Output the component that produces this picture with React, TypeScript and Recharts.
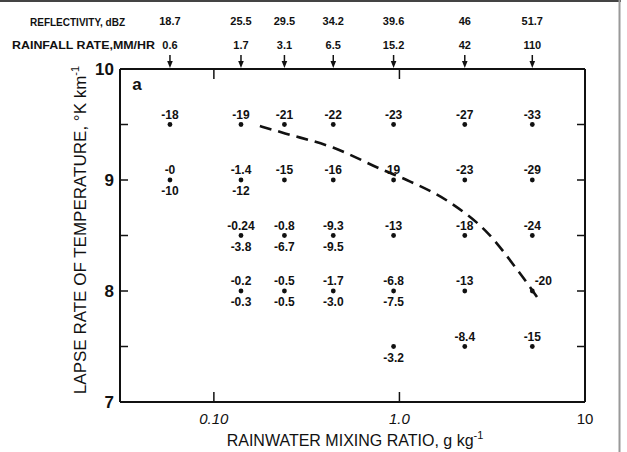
import React from 'react';
import { ComposedChart, Scatter, Line, XAxis, YAxis } from 'recharts';

// rainwater mixing ratio (g/kg) of each column of observations
const mixingRatio = [0.058, 0.14, 0.24, 0.44, 0.93, 2.25, 5.2];
// lapse rate rows (K/km)
const lapseRate = [9.5, 9.0, 8.5, 8.0, 7.5];

// header scales above the plot, one per column
const reflectivity = ['18.7', '25.5', '29.5', '34.2', '39.6', '46', '51.7'];
const rainfallRate = ['0.6', '1.7', '3.1', '6.5', '15.2', '42', '110'];

// values written above / below each dot (rows follow lapseRate, columns follow mixingRatio)
const upperLabels: (string | null)[][] = [
  ['-18', '-19', '-21', '-22', '-23', '-27', '-33'],
  ['-0', '-1.4', '-15', '-16', '19', '-23', '-29'],
  [null, '-0.24', '-0.8', '-9.3', '-13', '-18', '-24'],
  [null, '-0.2', '-0.5', '-1.7', '-6.8', '-13', '-20'],
  [null, null, null, null, null, '-8.4', '-15'],
];
const lowerLabels: (string | null)[][] = [
  [null, null, null, null, null, null, null],
  ['-10', '-12', null, null, null, null, null],
  [null, '-3.8', '-6.7', '-9.5', null, null, null],
  [null, '-0.3', '-0.5', '-3.0', '-7.5', null, null],
  [null, null, null, null, '-3.2', null, null],
];
// the one label that sits beside its dot rather than above it
const sideLabel = { row: 3, col: 6 };

// dashed boundary curve
const curveRatio = [0.177, 0.242, 0.442, 0.815, 1.095, 1.9, 3.0, 4.32, 5.66];
const curveLapse = [9.486, 9.42, 9.29, 9.09, 9.0, 8.79, 8.52, 8.19, 7.92];

const xTicks = [0.1, 1, 10];
const xTickLabels = ['0.10', '1.0', '10'];
const yTicks = [7, 7.5, 8, 8.5, 9, 9.5, 10];

const FONT = '"Liberation Sans", Arial, sans-serif';
const INK = '#111';

const points: any[] = [];
lapseRate.forEach((y, r) => {
  mixingRatio.forEach((x, c) => {
    const above = upperLabels[r][c];
    const below = lowerLabels[r][c];
    if (above || below) {
      points.push({ x, y, above, below, side: r === sideLabel.row && c === sideLabel.col });
    }
  });
});

const curve = curveRatio.map((x, i) => ({ x, y: curveLapse[i] }));

const PointMark = (props: any) => {
  const { cx, cy, payload } = props;
  const txt = { fontFamily: FONT, fontSize: 12, fontWeight: 700, fill: INK, textAnchor: 'middle' as const, dominantBaseline: 'central' as const };
  return (
    <g>
      <circle cx={cx} cy={cy} r={2.4} fill={INK} />
      {payload.above && (
        <text x={payload.side ? cx + 11 : cx} y={cy - 10} {...txt}>{payload.above}</text>
      )}
      {payload.below && (
        <text x={cx} y={cy + 11} {...txt}>{payload.below}</text>
      )}
    </g>
  );
};

const LeftTick = ({ x, y, payload }: any) => {
  const v = payload.value;
  const corner = v === 7 || v === 10;
  return (
    <g>
      {!corner && <line x1={x} y1={y} x2={x + 8} y2={y} stroke={INK} strokeWidth={1.5} />}
      {Number.isInteger(v) && (
        <text x={x - 6} y={y} textAnchor="end" dominantBaseline="central"
          style={{ fontFamily: FONT, fontSize: 17, fontWeight: 700, fill: INK }}>{v}</text>
      )}
    </g>
  );
};

const RightTick = ({ x, y, payload }: any) => {
  const v = payload.value;
  if (v === 7 || v === 10) return <g />;
  return <line x1={x} y1={y} x2={x - 8} y2={y} stroke={INK} strokeWidth={1.5} />;
};

const BottomTick = ({ x, y, payload, index }: any) => {
  const v = payload.value;
  return (
    <g>
      {v < 10 && <line x1={x} y1={y} x2={x} y2={y - 10} stroke={INK} strokeWidth={1.5} />}
      <text x={x} y={y + 16} textAnchor="middle" dominantBaseline="central"
        style={{ fontFamily: FONT, fontSize: 15, fontStyle: v < 10 ? 'italic' : 'normal', fill: INK }}>
        {xTickLabels[index]}
      </text>
    </g>
  );
};

const TopTick = ({ x, y, payload }: any) => {
  const i = mixingRatio.indexOf(payload.value);
  if (i < 0) return <line x1={x} y1={y} x2={x} y2={y + 10} stroke={INK} strokeWidth={1.5} />;
  const txt = { fontFamily: FONT, fontSize: 11, fontWeight: 700, fill: INK };
  return (
    <g>
      <text x={x} y={y - 48} textAnchor="middle" dominantBaseline="central" style={txt}>{reflectivity[i]}</text>
      <text x={x} y={y - 24} textAnchor="middle" dominantBaseline="central" style={txt}>{rainfallRate[i]}</text>
      <line x1={x} y1={y - 14} x2={x} y2={y - 4} stroke={INK} strokeWidth={1.5} />
      <path d={`M${x - 2.8},${y - 8} L${x + 2.8},${y - 8} L${x},${y - 1} Z`} fill={INK} />
    </g>
  );
};

const axisLine = { stroke: INK, strokeWidth: 2 };

export default function App() {
  return (
    <div style={{ position: 'absolute', left: 0, top: 0, width: 627, height: 452, background: '#fff' }}>
      <ComposedChart width={627} height={452} margin={{ top: 0, right: 0, bottom: 0, left: 0 }}>
        <XAxis xAxisId="bottom" dataKey="x" type="number" scale="log" domain={[0.0312, 10]} allowDataOverflow
          ticks={xTicks} interval={0} height={50} tickSize={0} tickMargin={0} tickLine={false}
          axisLine={axisLine} tick={<BottomTick />} />
        <XAxis xAxisId="top" orientation="top" dataKey="x" type="number" scale="log" domain={[0.0312, 10]} allowDataOverflow
          ticks={[...mixingRatio, 0.1, 1]} interval={0} height={69} tickSize={0} tickMargin={0} tickLine={false}
          axisLine={axisLine} tick={<TopTick />} />
        <YAxis yAxisId="left" dataKey="y" type="number" domain={[7, 10]} allowDataOverflow ticks={yTicks}
          interval={0} width={120} tickSize={0} tickMargin={0} tickLine={false} axisLine={axisLine} tick={<LeftTick />} />
        <YAxis yAxisId="right" orientation="right" dataKey="y" type="number" domain={[7, 10]} allowDataOverflow
          ticks={yTicks} interval={0} width={42} tickSize={0} tickMargin={0} tickLine={false} axisLine={axisLine}
          tick={<RightTick />} />
        <Line data={curve} dataKey="y" xAxisId="bottom" yAxisId="left" type="monotone" stroke={INK}
          strokeWidth={2.6} strokeDasharray="12 7" dot={false} activeDot={false} isAnimationActive={false} />
        <Scatter data={points} dataKey="y" xAxisId="bottom" yAxisId="left" shape={<PointMark />}
          isAnimationActive={false} />
      </ComposedChart>
      <svg width={627} height={452} style={{ position: 'absolute', left: 0, top: 0, pointerEvents: 'none' }}>
        <line x1={0} y1={1} x2={621} y2={1} stroke="#444" strokeWidth={2} />
        <line x1={619.5} y1={0} x2={619.5} y2={452} stroke="#999" strokeWidth={2} />
        <text x={125} y={21.7} textAnchor="end" dominantBaseline="central" textLength={95} lengthAdjust="spacingAndGlyphs"
          style={{ fontFamily: FONT, fontSize: 11, fontWeight: 700, fill: INK }}>REFLECTIVITY, dBZ</text>
        <text x={155} y={45} textAnchor="end" dominantBaseline="central" textLength={143} lengthAdjust="spacingAndGlyphs"
          style={{ fontFamily: FONT, fontSize: 11, fontWeight: 700, fill: INK }}>RAINFALL RATE,MM/HR</text>
        <text x={137} y={84} textAnchor="middle" dominantBaseline="central"
          style={{ fontFamily: FONT, fontSize: 17, fontWeight: 700, fill: INK }}>a</text>
        <text transform="translate(86,230) rotate(-90)" textAnchor="middle"
          style={{ fontFamily: FONT, fontSize: 17, fill: INK }}>
          LAPSE RATE OF TEMPERATURE, °K km<tspan dy={-7} fontSize={11}>-1</tspan>
        </text>
        <text x={355} y={446} textAnchor="middle"
          style={{ fontFamily: FONT, fontSize: 16, fill: INK }}>
          RAINWATER MIXING RATIO, g kg<tspan dy={-7} fontSize={11}>-1</tspan>
        </text>
      </svg>
    </div>
  );
}
